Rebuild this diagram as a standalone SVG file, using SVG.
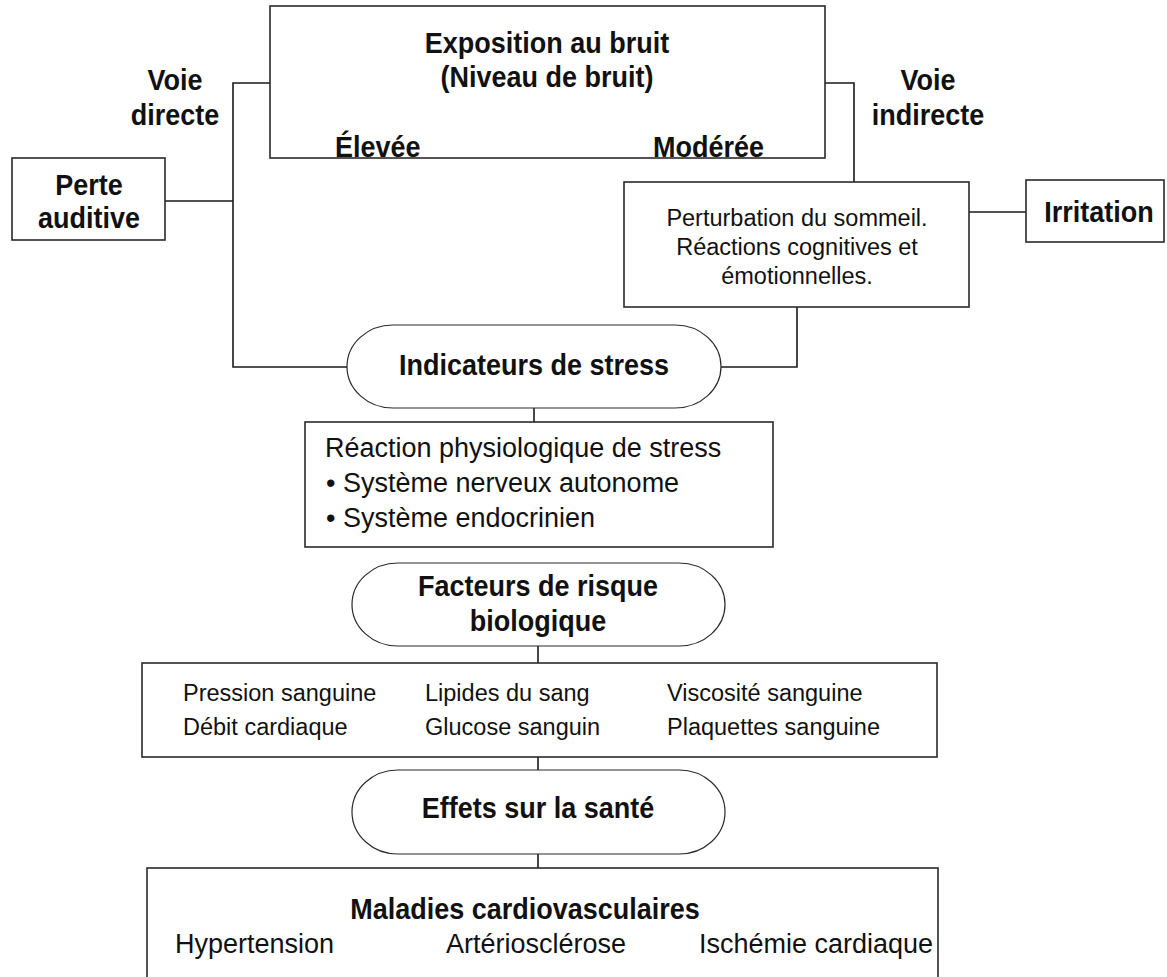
<svg xmlns="http://www.w3.org/2000/svg" width="1167" height="977" viewBox="0 0 1167 977">
<style>
.box{fill:#fff;stroke:#2a2a2a;stroke-width:1.6}
.pill{fill:#fff;stroke:#2a2a2a;stroke-width:1.2}
.ln{fill:none;stroke:#1a1a1a;stroke-width:1.6}
.thin{fill:none;stroke:#555;stroke-width:1}
text{font-family:"Liberation Sans",Arial,sans-serif;fill:#111}
.b{font-weight:bold;font-size:30px}
.r27{font-size:27px}
.r23{font-size:23.5px}
.m{text-anchor:middle}
</style>
<rect width="1167" height="977" fill="#fff"/>
<g id="connectors">
<polyline class="ln" points="270,83 233,83 233,367 347,367"/>
<line class="ln" x1="165" y1="201" x2="233" y2="201"/>
<polyline class="ln" points="825,83 854,83 854,182"/>
<line class="ln" x1="969" y1="212" x2="1026" y2="212"/>
<polyline class="ln" points="797,307 797,367 721,367"/>
<line class="ln" x1="534" y1="408" x2="534" y2="422"/>
<line class="thin" x1="538" y1="512" x2="538" y2="547"/>
<line class="ln" x1="538" y1="646" x2="538" y2="663"/>
<line class="ln" x1="538" y1="757" x2="538" y2="770"/>
<line class="ln" x1="538" y1="854" x2="538" y2="868"/>
</g>
<g id="exposition">
<rect class="box" x="270" y="6" width="555" height="152"/>
<text class="b m" transform="translate(547,53) scale(0.9,1)">Exposition au bruit</text>
<text class="b m" transform="translate(547,87) scale(0.9,1)">(Niveau de bruit)</text>
<text class="b" transform="translate(335,157) scale(0.9,1)">Élevée</text>
<text class="b" transform="translate(653,157) scale(0.9,1)">Modérée</text>
</g>
<g id="voie-directe">
<text class="b m" transform="translate(175,90) scale(0.9,1)">Voie</text>
<text class="b m" transform="translate(175,125) scale(0.9,1)">directe</text>
</g>
<g id="voie-indirecte">
<text class="b m" transform="translate(928,90) scale(0.9,1)">Voie</text>
<text class="b m" transform="translate(928,125) scale(0.9,1)">indirecte</text>
</g>
<g id="perte-auditive">
<rect class="box" x="12" y="158" width="153" height="82"/>
<text class="b m" transform="translate(89,195) scale(0.9,1)">Perte</text>
<text class="b m" transform="translate(89,228) scale(0.9,1)">auditive</text>
</g>
<g id="perturbation">
<rect class="box" x="624" y="182" width="345" height="125"/>
<text class="r23 m" x="797" y="226">Perturbation du sommeil.</text>
<text class="r23 m" x="797" y="255">Réactions cognitives et</text>
<text class="r23 m" x="797" y="284">émotionnelles.</text>
</g>
<g id="irritation">
<rect class="box" x="1026" y="180" width="138" height="62"/>
<text class="b m" transform="translate(1099,222) scale(0.9,1)">Irritation</text>
</g>
<g id="indicateurs">
<rect class="pill" x="347" y="325" width="374" height="83" rx="46" ry="41.5"/>
<text class="b m" transform="translate(534,375) scale(0.9,1)">Indicateurs de stress</text>
</g>
<g id="reaction">
<rect class="box" x="305" y="422" width="468" height="125"/>
<text class="r27" x="325" y="457">Réaction physiologique de stress</text>
<text class="r27" x="326" y="492">• Système nerveux autonome</text>
<text class="r27" x="326" y="527">• Système endocrinien</text>
</g>
<g id="facteurs">
<rect class="pill" x="352" y="563" width="373" height="83" rx="46" ry="41.5"/>
<text class="b m" transform="translate(538,596) scale(0.9,1)">Facteurs de risque</text>
<text class="b m" transform="translate(538,631) scale(0.9,1)">biologique</text>
</g>
<g id="risques">
<rect class="box" x="142" y="663" width="795" height="94"/>
<text class="r23" x="183" y="701">Pression sanguine</text>
<text class="r23" x="183" y="735">Débit cardiaque</text>
<text class="r23" x="425" y="701">Lipides du sang</text>
<text class="r23" x="425" y="735">Glucose sanguin</text>
<text class="r23" x="667" y="701">Viscosité sanguine</text>
<text class="r23" x="667" y="735">Plaquettes sanguine</text>
</g>
<g id="effets">
<rect class="pill" x="352" y="770" width="373" height="84" rx="46" ry="42"/>
<text class="b m" transform="translate(538,818) scale(0.9,1)">Effets sur la santé</text>
</g>
<g id="maladies">
<rect class="box" x="147" y="868" width="791" height="130"/>
<text class="b m" transform="translate(525,919) scale(0.9,1)">Maladies cardiovasculaires</text>
<text class="r27" x="175" y="953">Hypertension</text>
<text class="r27" x="446" y="953">Artériosclérose</text>
<text class="r27" x="699" y="953">Ischémie cardiaque</text>
</g>
</svg>
